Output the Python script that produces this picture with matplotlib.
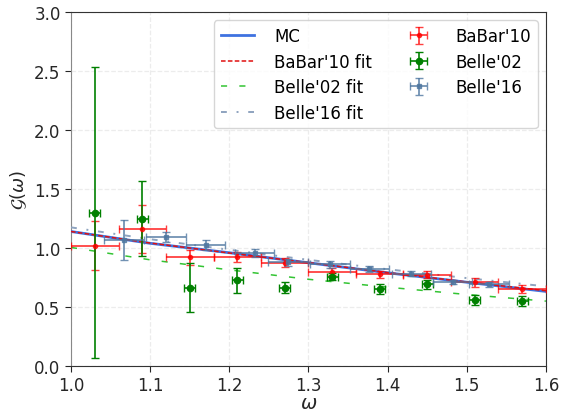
#!/usr/bin/env python3
import numpy as np
import matplotlib
matplotlib.use('Agg')
import matplotlib.pyplot as plt

# curves
w_curve = [1.0, 1.1, 1.2, 1.3, 1.4, 1.5, 1.6]
mc = [1.14, 1.04, 0.96, 0.875, 0.79, 0.71, 0.632]
babar10_fit = [1.14, 1.042, 0.958, 0.876, 0.792, 0.712, 0.638]
belle02_fit = [1.005, 0.90, 0.815, 0.735, 0.668, 0.606, 0.55]
belle16_fit = [1.175, 1.075, 0.985, 0.90, 0.82, 0.745, 0.675]

# BaBar'10 data
babar_w = [1.03, 1.09, 1.15, 1.21, 1.27, 1.33, 1.39, 1.45, 1.51, 1.57]
babar_g = [1.02, 1.16, 0.92, 0.925, 0.875, 0.80, 0.778, 0.775, 0.708, 0.65]
babar_gerr = [0.205, 0.205, 0.06, 0.045, 0.04, 0.03, 0.03, 0.03, 0.035, 0.035]
babar_werr = 0.03

# Belle'02 data
belle02_w = [1.03, 1.09, 1.15, 1.21, 1.27, 1.33, 1.39, 1.45, 1.51, 1.57]
belle02_g = [1.30, 1.25, 0.665, 0.727, 0.665, 0.756, 0.651, 0.693, 0.558, 0.552]
belle02_gerr = [1.23, 0.32, 0.21, 0.105, 0.05, 0.03, 0.04, 0.04, 0.04, 0.04]
belle02_werr = 0.007

# Belle'16 data
belle16_w = [1.067, 1.12, 1.17, 1.232, 1.274, 1.327, 1.377, 1.43, 1.482, 1.528]
belle16_g = [1.065, 1.095, 1.025, 0.96, 0.88, 0.863, 0.82, 0.784, 0.713, 0.693]
belle16_gerr = [0.17, 0.04, 0.04, 0.035, 0.03, 0.03, 0.025, 0.025, 0.02, 0.02]
belle16_werr = 0.025

fig = plt.figure(figsize=(5.61, 4.14), dpi=100)
ax = fig.add_axes([0.1266, 0.1135, 0.8466, 0.855])

ax.plot(w_curve, mc, '-', color='#3f72e0', lw=2.0, label='MC', zorder=3)
ax.plot(w_curve, babar10_fit, '--', color='#e01010', lw=1.1, dashes=(3, 1.5),
        label="BaBar'10 fit", zorder=4)
ax.plot(w_curve, belle02_fit, '--', color='#33c433', lw=1.1, dashes=(4, 8),
        label="Belle'02 fit", zorder=3)
ax.plot(w_curve, belle16_fit, '-.', color='#8ea3bf', lw=1.4, dashes=(3, 5, 1, 5),
        label="Belle'16 fit", zorder=3)

ax.errorbar(babar_w, babar_g, yerr=babar_gerr, xerr=babar_werr, fmt='o', ms=3,
            color='red', ecolor='red', elinewidth=1.3, capsize=3, alpha=0.75,
            label="BaBar'10", zorder=5)
ax.errorbar(belle02_w, belle02_g, yerr=belle02_gerr, xerr=belle02_werr, fmt='o', ms=4.5,
            color='green', ecolor='green', elinewidth=1.2, capsize=3,
            label="Belle'02", zorder=5)
ax.errorbar(belle16_w, belle16_g, yerr=belle16_gerr, xerr=belle16_werr, fmt='s', ms=3,
            color='#4f77a0', ecolor='#4f77a0', elinewidth=1.3, capsize=3, alpha=0.8,
            label="Belle'16", zorder=5)

ax.set_xlim(1.0, 1.6)
ax.set_ylim(0.0, 3.0)
ax.set_xticks(np.arange(1.0, 1.61, 0.1))
ax.set_yticks(np.arange(0.0, 3.01, 0.5))
ax.grid(True, ls='--', color='#ececec', lw=0.9)
ax.set_axisbelow(True)
ax.tick_params(labelsize=12, colors='#262626', direction='out', length=4)
for s in ['top', 'right', 'bottom']:
    ax.spines[s].set_color('#333333')
ax.spines['left'].set_color('#888888')

ax.set_xlabel(r'$\omega$', fontsize=14, color='#262626', labelpad=-1)
ax.set_ylabel(r'$\mathcal{G}(\omega)$', fontsize=13, color='#262626')

ax.legend(loc='upper right', ncol=2, fontsize=12, frameon=True, edgecolor='#cccccc',
          handlelength=2.0, handletextpad=1.2, columnspacing=1.8, labelspacing=0.45)

fig.savefig('out.png', dpi=100)
